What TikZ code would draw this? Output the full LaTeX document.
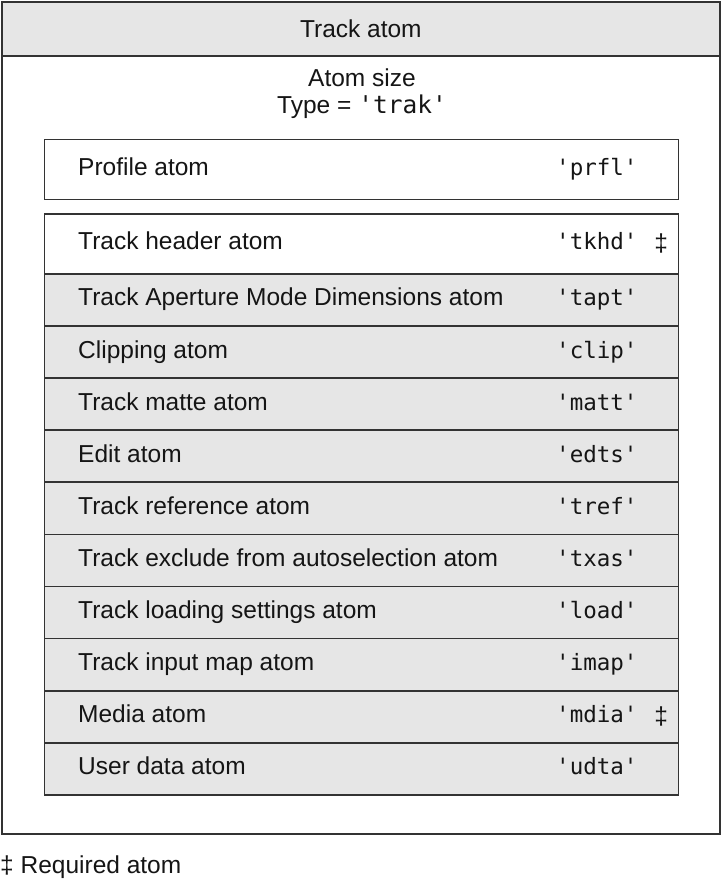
\documentclass[tikz,border=0pt]{standalone}
\usepackage{fontspec}
\setmainfont{Liberation Sans}
\setmonofont{DejaVu Sans Mono}
\usetikzlibrary{positioning}
\usepackage{xcolor}
\definecolor{boxline}{HTML}{333333}
\definecolor{boxfill}{HTML}{E6E6E6}
\definecolor{inktext}{HTML}{151515}

\begin{document}
\begin{tikzpicture}[x=1pt, y=-1pt, font=\fontsize{24.5}{28}\selectfont, text=inktext,
    atombox/.style={draw=boxline, line width=1.7pt, inner sep=0pt, minimum width=634pt},
    rowlabel/.style={anchor=west, inner sep=0pt, text height=17pt, text depth=5pt},
    rowcode/.style={rowlabel, font=\fontsize{22.5}{26}\selectfont\ttfamily}]
            \useasboundingbox (0,0) rectangle (720,880);
            % outer atom
            \node[atombox, minimum width=718pt, minimum height=778pt, anchor=north west] (track) at (1,55) {};
            \node[atombox, fill=boxfill, minimum width=718pt, minimum height=54pt, anchor=north west] (title) at (1,1) {Track atom};
            \node (size) at (362,78) {Atom size};
            \node (type) at (362,107) {Type = \texttt{'trak'}};
            % profile
            \node[atombox, minimum height=60pt, anchor=north west] (rowprfl) at (43.5,138.5) {};
            \node[rowlabel] (nameprfl) at ([xshift=34.5pt]rowprfl.west) {Profile atom};
            \node[rowcode] (codeprfl) at ([xshift=512.5pt]rowprfl.west) {'prfl'};
            % child atoms
            \node[atombox, minimum height=60pt, anchor=north west] (rowtkhd) at (43.5,213) {};
            \node[rowlabel] (nametkhd) at ([xshift=34.5pt]rowtkhd.west) {Track header atom};
            \node[rowcode] (codetkhd) at ([xshift=512.5pt]rowtkhd.west) {'tkhd'};
            \foreach \code/\name [count=\i from 0] in {tapt/Track Aperture Mode Dimensions atom, clip/Clipping atom,
                matt/Track matte atom, edts/Edit atom, tref/Track reference atom,
                txas/Track exclude from autoselection atom, load/Track loading settings atom,
                imap/Track input map atom, mdia/Media atom, udta/User data atom} {
                \node[atombox, fill=boxfill, minimum height=52.1pt, anchor=north west] (row\code) at (43.5,{273+52.1*\i}) {};
                \node[rowlabel] (name\code) at ([xshift=34.5pt]row\code.west) {\name};
                \node[rowcode] (code\code) at ([xshift=512.5pt]row\code.west) {'\code'};
            }
            \node (reqtkhd) at ([xshift=-18pt]rowtkhd.east) {‡};
            \node (reqmdia) at ([xshift=-18pt]rowmdia.east) {‡};
            % footnote
            \node[anchor=west, inner sep=0pt] (note) at (0,867) {‡ Required atom};
\end{tikzpicture}
\end{document}
